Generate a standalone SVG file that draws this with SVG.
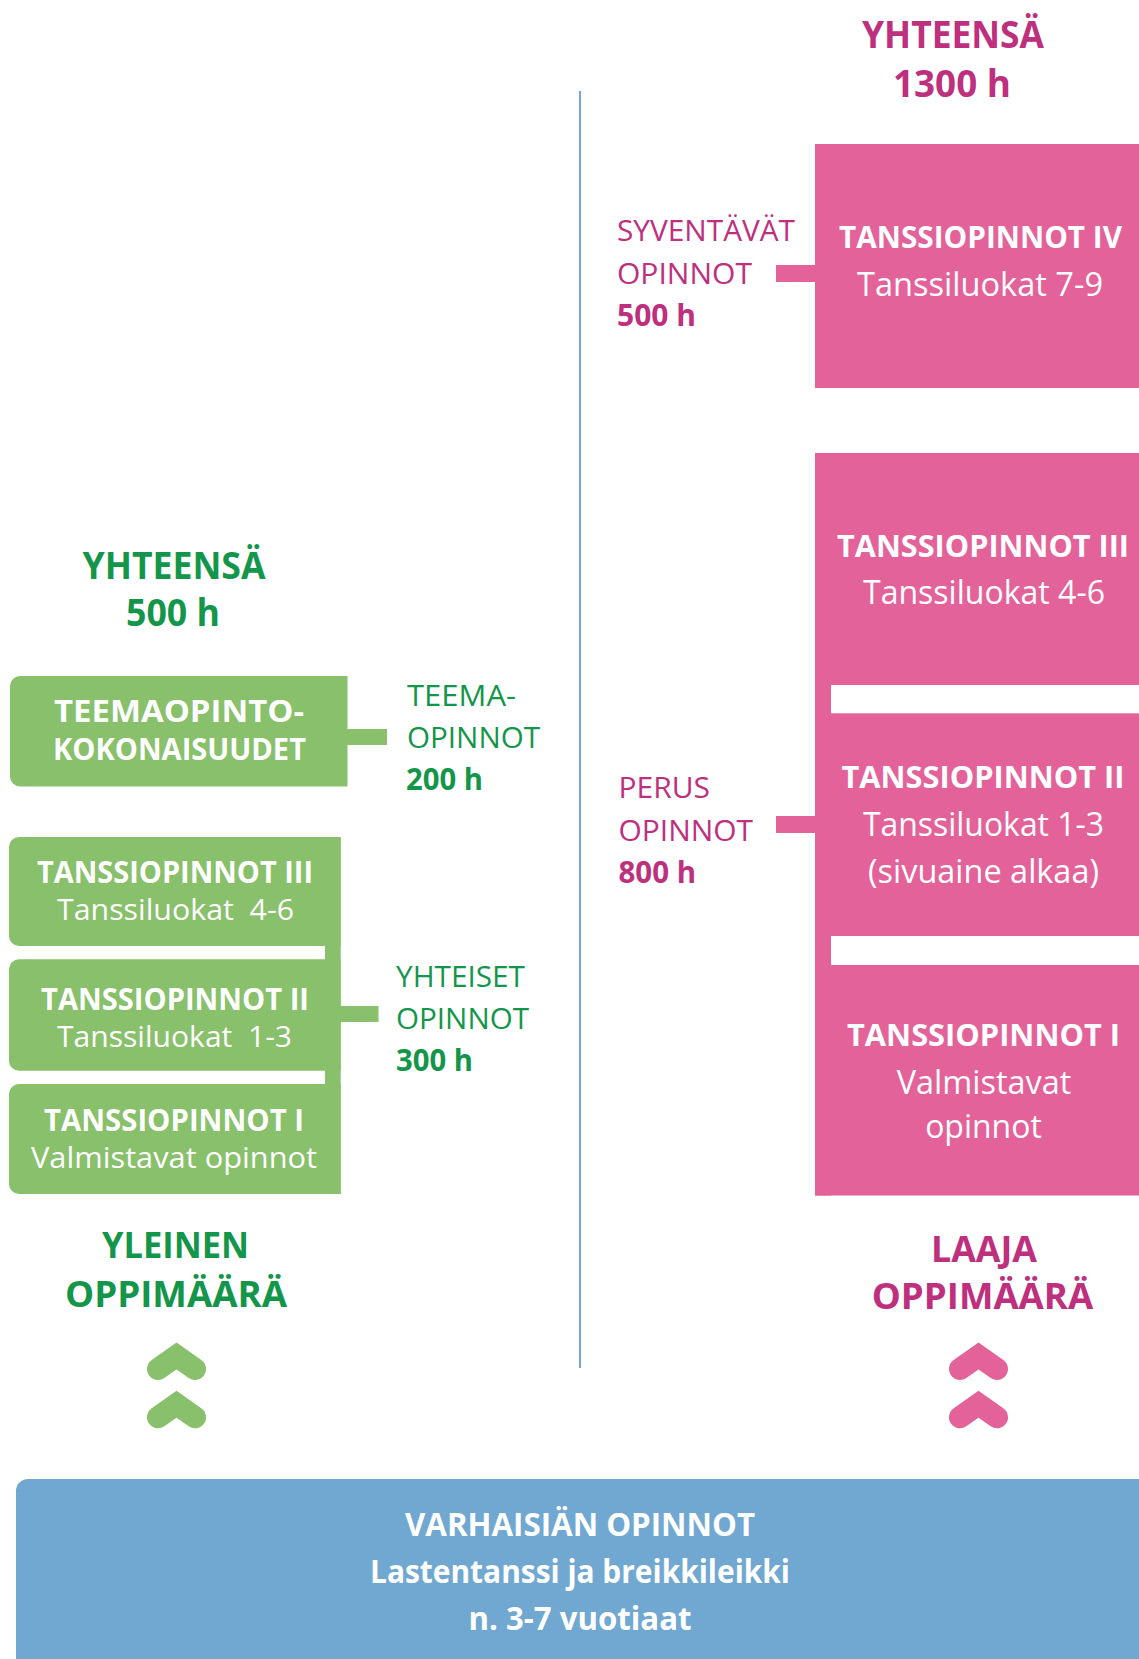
<svg xmlns="http://www.w3.org/2000/svg" width="1139" height="1659" viewBox="0 0 1139 1659">
<style>
text{font-family:"Open Sans","Liberation Sans",sans-serif;}
.b{font-weight:700;}
.r{font-weight:400;}
.w{fill:#ffffff;}
.g{fill:#13964a;}
.p{fill:#be2f7e;}
.m{text-anchor:middle;}
.gb{fill:#88c06b;}
.pb{fill:#e4629a;}
.bb{fill:#70a8d2;}
.pre{white-space:pre;}
.chg{fill:none;stroke:#88c06b;stroke-width:22;stroke-linecap:round;stroke-linejoin:miter;}
.chp{fill:none;stroke:#e4629a;stroke-width:22;stroke-linecap:round;stroke-linejoin:miter;}
</style>
<rect width="1139" height="1659" fill="#ffffff"/>

<line id="divider" x1="580" y1="91" x2="580" y2="1368" stroke="#70a8d2" stroke-width="2"/>

<g id="connectors">
<rect class="gb" x="347" y="729" width="40" height="16"/>
<rect class="gb" x="340" y="1006" width="38.5" height="16"/>
<rect class="pb" x="776" y="265" width="40" height="17"/>
<rect class="pb" x="776" y="816" width="40" height="17"/>
</g>

<g id="header-yleinen">
<text class="b g m" x="174" y="579" font-size="37" textLength="183" lengthAdjust="spacingAndGlyphs">YHTEENSÄ</text>
<text class="b g m" x="173" y="626" font-size="37" textLength="94" lengthAdjust="spacingAndGlyphs">500 h</text>
</g>

<g id="header-laaja">
<text class="b p m" x="953" y="48" font-size="37" textLength="182" lengthAdjust="spacingAndGlyphs">YHTEENSÄ</text>
<text class="b p m" x="952" y="97" font-size="37" textLength="118" lengthAdjust="spacingAndGlyphs">1300 h</text>
</g>

<g id="teemaopinto">
<path class="gb" d="M20,676 H347.5 V786.5 H20 A10,10 0 0 1 10,776.5 V686 A10,10 0 0 1 20,676 Z"/>
<text class="b w m" x="179" y="722" font-size="29.5" textLength="250" lengthAdjust="spacingAndGlyphs">TEEMAOPINTO-</text>
<text class="b w m" x="179.5" y="760" font-size="29.5" textLength="253" lengthAdjust="spacingAndGlyphs">KOKONAISUUDET</text>
</g>

<g id="label-teemaopinnot">
<text class="r g" x="407" y="706" font-size="30" textLength="109" lengthAdjust="spacingAndGlyphs">TEEMA-</text>
<text class="r g" x="407" y="748" font-size="30" textLength="133" lengthAdjust="spacingAndGlyphs">OPINNOT</text>
<text class="b g" x="406" y="790" font-size="30" textLength="77" lengthAdjust="spacingAndGlyphs">200 h</text>
</g>

<g id="green-stack">
<rect class="gb" x="325" y="837" width="15.7" height="357"/>
<g id="g-tanssi3">
<path class="gb" d="M19,837 H340.7 V946 H19 A10,10 0 0 1 9,936 V847 A10,10 0 0 1 19,837 Z"/>
<text class="b w m" x="175" y="883" font-size="29.5" textLength="276" lengthAdjust="spacingAndGlyphs">TANSSIOPINNOT III</text>
<text class="r w m pre" x="175.5" y="920" font-size="30" textLength="237" lengthAdjust="spacingAndGlyphs">Tanssiluokat  4-6</text>
</g>
<g id="g-tanssi2">
<path class="gb" d="M19,959.3 H340.7 V1070.7 H19 A10,10 0 0 1 9,1060.7 V969.3 A10,10 0 0 1 19,959.3 Z"/>
<text class="b w m" x="175" y="1010" font-size="29.5" textLength="268" lengthAdjust="spacingAndGlyphs">TANSSIOPINNOT II</text>
<text class="r w m pre" x="174.5" y="1047" font-size="30" textLength="235" lengthAdjust="spacingAndGlyphs">Tanssiluokat  1-3</text>
</g>
<g id="g-tanssi1">
<path class="gb" d="M19,1084 H340.7 V1194 H19 A10,10 0 0 1 9,1184 V1094 A10,10 0 0 1 19,1084 Z"/>
<text class="b w m" x="174" y="1131" font-size="29.5" textLength="260" lengthAdjust="spacingAndGlyphs">TANSSIOPINNOT I</text>
<text class="r w m" x="174" y="1168" font-size="30" textLength="286" lengthAdjust="spacingAndGlyphs">Valmistavat opinnot</text>
</g>
</g>

<g id="label-yhteiset">
<text class="r g" x="396" y="987" font-size="30" textLength="129" lengthAdjust="spacingAndGlyphs">YHTEISET</text>
<text class="r g" x="396" y="1029" font-size="30" textLength="133" lengthAdjust="spacingAndGlyphs">OPINNOT</text>
<text class="b g" x="396" y="1071" font-size="30" textLength="77" lengthAdjust="spacingAndGlyphs">300 h</text>
</g>

<g id="label-syventavat">
<text class="r p" x="617" y="241" font-size="30" textLength="178" lengthAdjust="spacingAndGlyphs">SYVENTÄVÄT</text>
<text class="r p" x="617" y="284" font-size="30" textLength="135" lengthAdjust="spacingAndGlyphs">OPINNOT</text>
<text class="b p" x="617" y="326" font-size="30" textLength="79" lengthAdjust="spacingAndGlyphs">500 h</text>
</g>

<g id="p-tanssi4">
<rect class="pb" x="815" y="144" width="324" height="244"/>
<text class="b w m" x="980.5" y="248" font-size="30" textLength="283" lengthAdjust="spacingAndGlyphs">TANSSIOPINNOT IV</text>
<text class="r w m" x="980" y="296" font-size="32" textLength="246" lengthAdjust="spacingAndGlyphs">Tanssiluokat 7-9</text>
</g>

<g id="pink-stack">
<rect class="pb" x="815" y="453" width="16" height="742.5"/>
<g id="p-tanssi3">
<rect class="pb" x="815" y="453" width="324" height="232"/>
<text class="b w m" x="983" y="557" font-size="31" textLength="292" lengthAdjust="spacingAndGlyphs">TANSSIOPINNOT III</text>
<text class="r w m" x="984" y="604" font-size="32" textLength="242" lengthAdjust="spacingAndGlyphs">Tanssiluokat 4-6</text>
</g>
<g id="p-tanssi2">
<rect class="pb" x="815" y="713.3" width="324" height="222.7"/>
<text class="b w m" x="983" y="788" font-size="31" textLength="283" lengthAdjust="spacingAndGlyphs">TANSSIOPINNOT II</text>
<text class="r w m" x="983.5" y="836" font-size="32" textLength="241" lengthAdjust="spacingAndGlyphs">Tanssiluokat 1-3</text>
<text class="r w m" x="983.5" y="883" font-size="32" textLength="231" lengthAdjust="spacingAndGlyphs">(sivuaine alkaa)</text>
</g>
<g id="p-tanssi1">
<rect class="pb" x="815" y="965" width="324" height="230.5"/>
<text class="b w m" x="983.5" y="1046" font-size="31" textLength="273" lengthAdjust="spacingAndGlyphs">TANSSIOPINNOT I</text>
<text class="r w m" x="984" y="1094" font-size="32" textLength="174.5" lengthAdjust="spacingAndGlyphs">Valmistavat</text>
<text class="r w m" x="983.5" y="1138" font-size="32" textLength="116.7" lengthAdjust="spacingAndGlyphs">opinnot</text>
</g>
</g>

<g id="label-perus">
<text class="r p" x="618.5" y="798" font-size="30" textLength="91.5" lengthAdjust="spacingAndGlyphs">PERUS</text>
<text class="r p" x="618.5" y="841" font-size="30" textLength="134.5" lengthAdjust="spacingAndGlyphs">OPINNOT</text>
<text class="b p" x="618.5" y="883" font-size="30" textLength="77.5" lengthAdjust="spacingAndGlyphs">800 h</text>
</g>

<g id="label-yleinen">
<text class="b g m" x="175.5" y="1258" font-size="36" textLength="147" lengthAdjust="spacingAndGlyphs">YLEINEN</text>
<text class="b g m" x="176" y="1306.5" font-size="36" textLength="222" lengthAdjust="spacingAndGlyphs">OPPIMÄÄRÄ</text>
</g>

<g id="label-laaja">
<text class="b p m" x="984" y="1261.5" font-size="36" textLength="106" lengthAdjust="spacingAndGlyphs">LAAJA</text>
<text class="b p m" x="982.5" y="1309" font-size="36" textLength="221.5" lengthAdjust="spacingAndGlyphs">OPPIMÄÄRÄ</text>
</g>

<g id="chevrons-green">
<path class="chg" d="M158,1369 L176.5,1356 L195,1369"/>
<path class="chg" d="M158,1417.3 L176.5,1404.3 L195,1417.3"/>
</g>
<g id="chevrons-pink">
<path class="chp" d="M960,1369 L978.5,1356 L997,1369"/>
<path class="chp" d="M960,1417.3 L978.5,1404.3 L997,1417.3"/>
</g>

<g id="varhaisian">
<rect class="bb" x="16" y="1479" width="1140" height="200" rx="12" ry="12"/>
<text class="b w m" x="580" y="1536" font-size="32" textLength="350" lengthAdjust="spacingAndGlyphs">VARHAISIÄN OPINNOT</text>
<text class="b w m" x="580" y="1583" font-size="32" textLength="420" lengthAdjust="spacingAndGlyphs">Lastentanssi ja breikkileikki</text>
<text class="b w m" x="580" y="1630" font-size="32" textLength="223" lengthAdjust="spacingAndGlyphs">n. 3-7 vuotiaat</text>
</g>
</svg>
